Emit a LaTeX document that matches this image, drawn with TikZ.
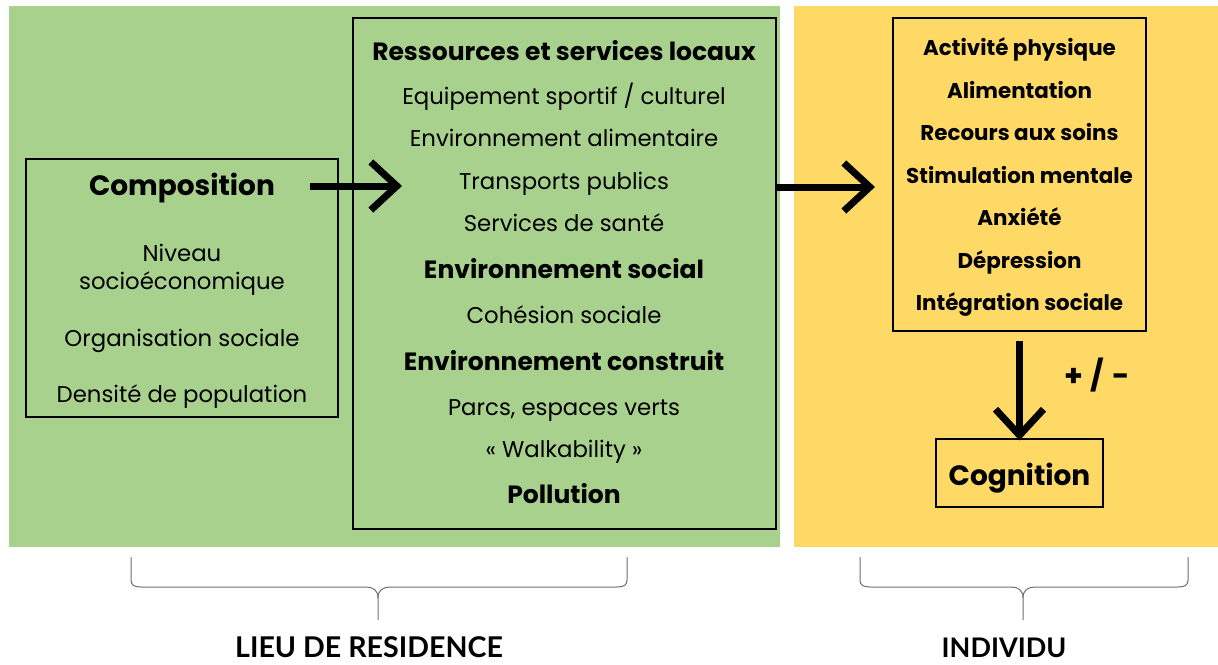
\documentclass[tikz,border=0pt]{standalone}
\usepackage{fontspec}
\setmainfont{Poppins}
\newfontfamily\labfont{Lato}
\usetikzlibrary{arrows.meta}
\definecolor{pgreen}{HTML}{A9D18E}
\definecolor{pyellow}{HTML}{FFD966}
\definecolor{bracegray}{HTML}{707070}
\tikzset{
  boxframe/.style={draw=black, line width=1.2pt, fill=none, inner sep=0pt},
  ln/.style={inner sep=0pt, anchor=base, font=\fontsize{22.8}{22.8}\selectfont},
  hd/.style={ln, font=\fontsize{25}{25}\selectfont\bfseries},
  rt/.style={ln, font=\fontsize{21.4}{21.4}\selectfont\bfseries},
  bigarrow/.style={line width=7pt, -{Straight Barb[length=26pt,width=48pt,line width=7pt,line join=miter]}},
  bracepath/.style={draw=bracegray, line width=1pt},
  grouplab/.style={inner sep=0pt, anchor=base, font=\labfont\fontsize{27}{27}\selectfont\bfseries}
}
\begin{document}
\begin{tikzpicture}[x=1pt,y=-1pt]
\useasboundingbox (0,0) rectangle (1218,664);
\fill[white] (0,0) rectangle (1218,664);
% panels
\fill[pgreen] (9,6) rectangle (780,547);
\fill[pyellow] (794,6) rectangle (1218,547);
% boxes
\node[boxframe, minimum width=312pt, minimum height=258pt] (comp) at (182,288) {};
\node[boxframe, minimum width=423pt, minimum height=511pt] (mid) at (564.5,273.5) {};
\node[boxframe, minimum width=253pt, minimum height=313pt] (rbox) at (1019.5,174.5) {};
\node[boxframe, minimum width=167pt, minimum height=68pt] (cog) at (1019.5,473) {};
% composition texts
\node[ln, font=\fontsize{28}{28}\selectfont\bfseries] (c0) at (182,195.8) {Composition};
\node[ln] (c1) at (182,261) {Niveau};
\node[ln] (c2) at (182,289) {socioéconomique};
\node[ln] (c3) at (182,346) {Organisation sociale};
\node[ln] (c4) at (182,402) {Densité de population};
% middle texts
\node[hd] (m1) at (564,60.8) {Ressources et services locaux};
\node[ln] (m2) at (564,104.9) {Equipement sportif / culturel};
\node[ln] (m3) at (564,146.9) {Environnement alimentaire};
\node[ln] (m4) at (564,189.9) {Transports publics};
\node[ln] (m5) at (564,231.9) {Services de santé};
\node[hd] (m6) at (564,278.8) {Environnement social};
\node[ln] (m7) at (564,323.9) {Cohésion sociale};
\node[hd] (m8) at (564,370.8) {Environnement construit};
\node[ln] (m9) at (564,415.9) {Parcs, espaces verts};
\node[ln] (m10) at (564,457.9) {«~Walkability~»};
\node[hd] (m11) at (564,503.8) {Pollution};
% right texts
\node[rt] (r1) at (1019.5,55.5) {Activité physique};
\node[rt] (r2) at (1019.5,98.5) {Alimentation};
\node[rt] (r3) at (1019.5,140.5) {Recours aux soins};
\node[rt] (r4) at (1019.5,183.5) {Stimulation mentale};
\node[rt] (r5) at (1019.5,225.5) {Anxiété};
\node[rt] (r6) at (1019.5,268.5) {Dépression};
\node[rt] (r7) at (1019.5,310.5) {Intégration sociale};
\node[ln, font=\fontsize{28}{28}\selectfont\bfseries] (cogt) at (1019.5,485.8) {Cognition};
\node[ln, font=\fontsize{30}{30}\selectfont\bfseries] (pm) at (1097,386) {+\hspace{8pt}/\hspace{8pt}-};
% arrows
\coordinate (a1s) at (310,186);
\coordinate (a1e) at (402,186);
\coordinate (a2e) at (875,187);
\draw[bigarrow] (a1s) -- (a1e);
\draw[bigarrow] (mid.east |- a2e) -- (a2e);
\draw[bigarrow] ([yshift=-9pt]rbox.south) -- ([yshift=-2pt]cog.north);
% braces
\draw[bracepath] (131,557) -- (131,580) .. controls (131,585) and (134,587) .. (141,587)
  -- (366,587) .. controls (373,587) and (378,590) .. (378,598) -- (378,620);
\draw[bracepath] (627,557) -- (627,580) .. controls (627,585) and (624,587) .. (617,587)
  -- (390,587) .. controls (383,587) and (378,590) .. (378,598);
\draw[bracepath] (860,557) -- (860,580) .. controls (860,585) and (863,587) .. (870,587)
  -- (1011,587) .. controls (1018,587) and (1023,590) .. (1023,598) -- (1023,620);
\draw[bracepath] (1188,557) -- (1188,580) .. controls (1188,585) and (1185,587) .. (1178,587)
  -- (1035,587) .. controls (1028,587) and (1023,590) .. (1023,598);
\node[grouplab, font=\labfont\fontsize{28.6}{28.6}\selectfont\bfseries] (lieu) at (369,657) {LIEU DE RESIDENCE};
\node[grouplab] (indiv) at (1004,657) {INDIVIDU};
\end{tikzpicture}
\end{document}
